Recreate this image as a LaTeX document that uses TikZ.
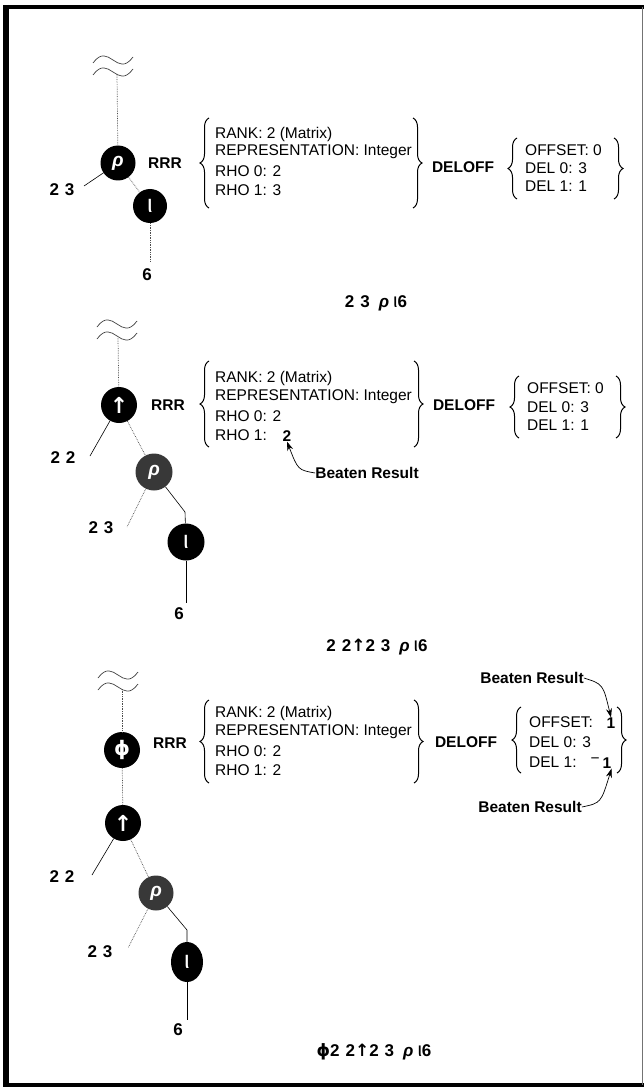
\documentclass[tikz,border=0pt]{standalone}
\usepackage{fontspec}
\setmainfont{Liberation Sans}
\newfontfamily\dejavu{DejaVu Sans}
\usetikzlibrary{arrows.meta,decorations.pathreplacing,shapes.geometric}
\newcommand\aplphi{{\dejavu ϕ}}
\newcommand\apliota{{\mdseries\fontsize{20}{20}\selectfont ι}}
\begin{document}
\begin{tikzpicture}[x=1pt,y=-1pt,
  opnode/.style={circle,fill=black,minimum size=36pt,inner sep=0pt,text=white},
  graynode/.style={opnode,fill=black!78},
  rhofont/.style={font=\bfseries\itshape\fontsize{19}{19}\selectfont},
  iotafont/.style={font=\fontsize{25}{25}\selectfont},
  upfont/.style={font=\dejavu\bfseries\fontsize{22}{22}\selectfont},
  phifont/.style={font=\dejavu\bfseries\fontsize{20}{20}\selectfont},
  lab/.style={inner sep=0pt,font=\bfseries\fontsize{17}{19}\selectfont},
  hdr/.style={inner sep=0pt,font=\bfseries\fontsize{15.5}{18}\selectfont},
  txt/.style={anchor=west,inner sep=0pt,font=\fontsize{15.5}{18}\selectfont},
  dotl/.style={densely dotted,line width=0.7pt,black!70},
  soll/.style={line width=0.6pt},
  wave/.style={line width=0.7pt,black!75},
  brc/.style={decorate,decoration={brace,amplitude=9pt},line width=1pt},
  pointer/.style={-{Stealth[length=9pt,width=6pt]},line width=0.7pt},
  tilde/.pic={
    \draw[wave] (-20,-3) .. controls (-12,-14) and (-6,-10) .. (0,-6) .. controls (6,-2) and (12,2) .. (20,-9);
    \draw[wave] (-20,9) .. controls (-12,-2) and (-6,2) .. (0,6) .. controls (6,10) and (12,14) .. (20,3);
  }
]
\useasboundingbox (0,0) rectangle (644,1091);
\draw[line width=3.5pt] (6,7) -- (644,7);
\draw[line width=3.5pt] (6,1085) -- (644,1085);
\draw[line width=1pt,black!55] (642,7) -- (642,1085);
\draw[line width=6pt] (6,5) -- (6,1087);

% ---------------- Panel 1 ----------------
\pic at (113,66) {tilde};
\coordinate (t1) at (117,74);
\node[opnode,minimum size=35pt,rhofont] (rho1) at (118,163) {ρ};
\node[opnode,minimum size=34pt,iotafont] (iota1) at (150,206) {ι};
\node[lab] (a1) at (62,190) {2\hspace{6pt}3};
\coordinate (a1e) at (84,186);
\node[lab] (six1) at (147,275) {6};
\coordinate (s1e) at (150,262);
\draw[dotl] (t1) -- (rho1);
\draw[soll] (a1e) -- (rho1);
\draw[dotl] (rho1) -- (iota1);
\draw[dotl] (iota1) -- (s1e);

\node[hdr] (rrr1) at (165,163) {RRR};
\draw[brc] (209,208) -- (209,118);
\node[txt] (r1a) at (215,134) {RANK: 2 (Matrix)};
\node[txt] (r1b) at (215,152) {REPRESENTATION: Integer};
\node[txt] (r1c) at (215,171) {RHO 0: 2};
\node[txt] (r1d) at (215,190) {RHO 1: 3};
\draw[brc] (413,118) -- (413,208);
\node[hdr] (del1) at (463,167) {DELOFF};
\draw[brc] (517,199) -- (517,138);
\node[txt] (d1a) at (525,150) {OFFSET: 0};
\node[txt] (d1b) at (525,168) {DEL 0: 3};
\node[txt] (d1c) at (525,186) {DEL 1: 1};
\draw[brc] (614,138) -- (614,199);

\node[lab] (f1) at (376,303) {2\hspace{6pt}3\hspace{9pt}\textit{ρ}\hspace{4pt}\apliota 6};

% ---------------- Panel 2 ----------------
\pic at (117,330) {tilde};
\coordinate (t2) at (118,338);
\node[opnode,upfont] (up2) at (119,405) {↑};
\node[graynode,minimum size=37pt,rhofont] (rho2) at (154,472) {ρ};
\node[opnode,minimum size=37pt,iotafont] (iota2) at (186,542) {ι};
\node[lab] (a2) at (63,458) {2\hspace{6pt}2};
\coordinate (a2e) at (90,456);
\node[lab] (b2) at (101,528) {2\hspace{6pt}3};
\coordinate (b2e) at (127,527);
\coordinate (k2) at (185,512);
\node[lab] (six2) at (179,614) {6};
\coordinate (s2e) at (186,603);
\draw[dotl] (t2) -- (up2);
\draw[soll] (a2e) -- (up2);
\draw[dotl] (up2) -- (rho2);
\draw[dotl] (rho2) -- (b2e);
\draw[soll] (rho2) -- (k2) -- (iota2);
\draw[soll] (iota2) -- (s2e);

\node[hdr] (rrr2) at (168,405) {RRR};
\draw[brc] (209,447) -- (209,361);
\node[txt] (r2a) at (215,378) {RANK: 2 (Matrix)};
\node[txt] (r2b) at (215,397) {REPRESENTATION: Integer};
\node[txt] (r2c) at (215,416) {RHO 0: 2};
\node[txt] (r2d) at (215,435) {RHO 1:};
\node[hdr] (v2) at (287,436) {2};
\draw[brc] (414,361) -- (414,447);
\node[hdr] (del2) at (464,405) {DELOFF};
\draw[brc] (519,438) -- (519,376);
\node[txt] (d2a) at (527,388) {OFFSET: 0};
\node[txt] (d2b) at (527,407) {DEL 0: 3};
\node[txt] (d2c) at (527,425) {DEL 1: 1};
\draw[brc] (616,376) -- (616,438);
\node[hdr] (br2) at (367,473) {Beaten Result};
\draw[pointer] (br2.west) .. controls (298,470) .. (v2.south);

\node[lab] (f2) at (377,647) {2\hspace{6pt}2{\dejavu ↑}2\hspace{6pt}3\hspace{9pt}\textit{ρ}\hspace{4pt}\apliota 6};

% ---------------- Panel 3 ----------------
\pic at (118,681) {tilde};
\coordinate (t3) at (122,689);
\node[opnode,phifont] (phi3) at (122,750) {ϕ};
\node[opnode,upfont] (up3) at (123,823) {↑};
\node[graynode,minimum size=35pt,rhofont] (rho3) at (156,893) {ρ};
\node[ellipse,fill=black,minimum width=32pt,minimum height=40pt,inner sep=0pt,text=white,iotafont] (iota3) at (187,962) {ι};
\node[lab] (a3) at (62,877) {2\hspace{6pt}2};
\coordinate (a3e) at (92,875);
\node[lab] (b3) at (100,952) {2\hspace{6pt}3};
\coordinate (b3e) at (128,948);
\coordinate (k3) at (187,930);
\node[lab] (six3) at (178,1030) {6};
\coordinate (s3e) at (187,1020);
\draw[dotl] (t3) -- (phi3);
\draw[dotl] (phi3) -- (up3);
\draw[soll] (a3e) -- (up3);
\draw[dotl] (up3) -- (rho3);
\draw[dotl] (rho3) -- (b3e);
\draw[soll] (rho3) -- (k3) -- (iota3);
\draw[soll] (iota3) -- (s3e);

\node[hdr] (rrr3) at (170,743) {RRR};
\draw[brc] (209,783) -- (209,700);
\node[txt] (r3a) at (215,713) {RANK: 2 (Matrix)};
\node[txt] (r3b) at (215,732) {REPRESENTATION: Integer};
\node[txt] (r3c) at (215,751) {RHO 0: 2};
\node[txt] (r3d) at (215,770) {RHO 1: 2};
\draw[brc] (414,700) -- (414,783);
\node[hdr] (del3) at (466,742) {DELOFF};
\draw[brc] (521,773) -- (521,707);
\node[txt] (d3a) at (529,722) {OFFSET:};
\node[hdr] (v3a) at (611,723) {1};
\node[txt] (d3b) at (529,742) {DEL 0: 3};
\node[txt] (d3c) at (529,762) {DEL 1:};
\node[hdr] (v3c) at (601,763) {\raisebox{5pt}{\mdseries −}\hspace{3pt}1};
\draw[brc] (617,707) -- (617,773);
\node[hdr] (br3a) at (532,678) {Beaten Result};
\node[hdr] (br3b) at (530,807) {Beaten Result};
\draw[pointer] (br3a.east) .. controls (603,684) .. (v3a.north);
\draw[pointer] (br3b.east) .. controls (601,803) .. (v3c.south east);

\node[lab] (f3) at (374,1052) {\aplphi 2\hspace{6pt}2{\dejavu ↑}2\hspace{6pt}3\hspace{9pt}\textit{ρ}\hspace{4pt}\apliota 6};
\end{tikzpicture}
\end{document}
